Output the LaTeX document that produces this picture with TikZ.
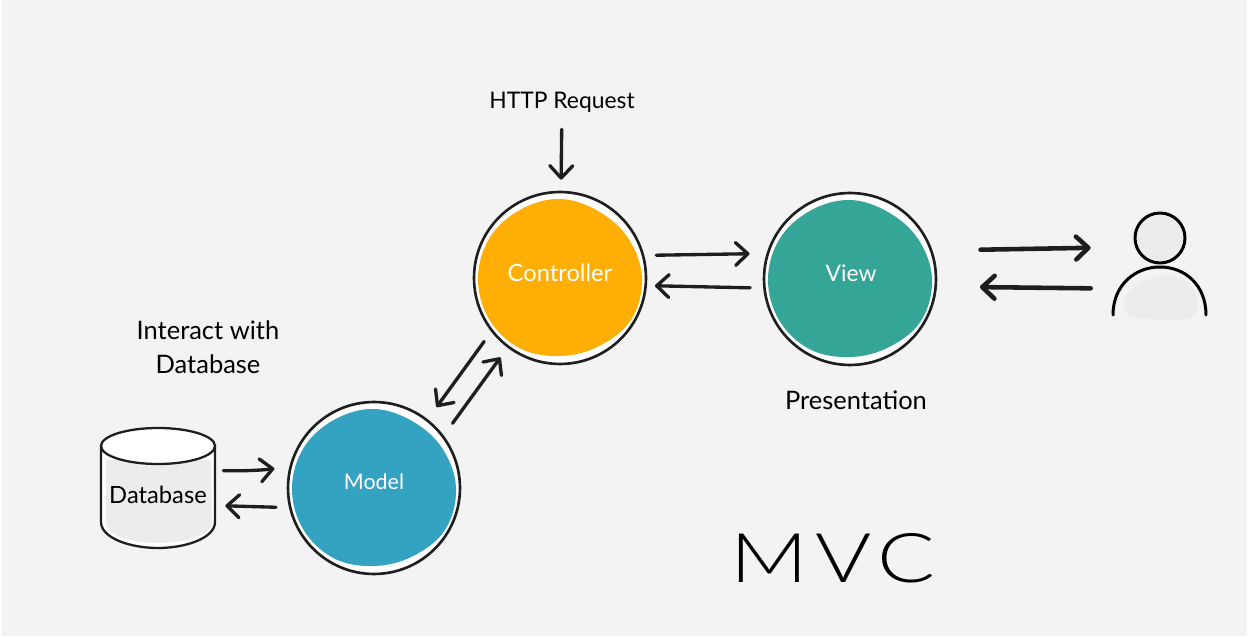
\documentclass[tikz,border=0pt]{standalone}
\usepackage{fontspec}
\setmainfont{Lato}
\newfontfamily\thinfont[LetterSpace=8]{Lato Light}
\usetikzlibrary{arrows.meta}
\definecolor{paper}{HTML}{F3F3F3}
\definecolor{ink}{HTML}{1E1E1E}
\definecolor{soft}{HTML}{ECECEC}
\definecolor{orangefill}{HTML}{FFAE05}
\definecolor{tealfill}{HTML}{35A597}
\definecolor{bluefill}{HTML}{34A2C1}
\newcommand{\blobshape}{plot[smooth cycle,tension=0.63] coordinates
  {(0:82) (30:82.5) (60:78.5) (90:78) (120:81) (150:82) (180:82) (210:81) (240:79) (270:79) (300:77) (330:79)}}
\tikzset{
  >={Straight Barb[length=7pt,width=13pt,round]},
  ball/.style={circle,draw=ink,line width=1.5pt,fill=white,minimum size=3.44cm},
  balltext/.style={text=white,font=\fontsize{#1}{16}\selectfont},
  arrow/.style={->,ink,line width=1.9pt,line cap=round},
  thick arrow/.style={arrow,line width=2.6pt},
  gap/.style 2 args={shorten <=#1*0.02cm,shorten >=#2*0.02cm},
  label/.style={text=black,font=\fontsize{#1}{19.5}\selectfont,align=center}
}
\begin{document}
\begin{tikzpicture}[x=0.02cm,y=-0.02cm]
\useasboundingbox (0,0) rectangle (1248,638);
\fill[white] (0,0) rectangle (1248,638);
\fill[paper] (2,0) rectangle (1247,636);

\path (560,278) node[ball] (controller) {};
\fill[orangefill,shift={(controller.center)}] \blobshape;
\path (560,273) node[balltext=13.5] (controllertext) {Controller};

\path (850,279) node[ball] (view) {};
\fill[tealfill,shift={(view.center)}] \blobshape;
\path (851,273) node[balltext=13] (viewtext) {View};

\path (374,488) node[ball] (model) {};
\fill[bluefill,shift={(model.center)}] \blobshape;
\path (374,482) node[balltext=12.2] (modeltext) {Model};

% database: body, grey inside, lid
\path (158,488) node[minimum width=2.28cm,minimum height=2.4cm,inner sep=0pt] (database) {};
\filldraw[draw=ink,fill=white,line width=1.3pt] (101,446) -- (101,522) .. controls (101,538) and (130,548) .. (158,548) .. controls (186,548) and (215,538) .. (215,522) -- (215,446) -- cycle;
\fill[soft] (106,460) -- (211,460) -- (212,522) .. controls (212,536) and (183,543) .. (158,543) .. controls (133,543) and (106,536) .. (106,522) -- cycle;
\filldraw[draw=ink,fill=white,line width=1.3pt] (158,446) ellipse (57 and 18);
\path (158,495) node[label=13.5] (databasetext) {Database};

% user: head and shoulders
\path (1160,265) node[minimum width=1.92cm,minimum height=2cm,inner sep=0pt] (user) {};
\fill[soft] (1124,302) .. controls (1128,285) and (1150,274) .. (1172,276) .. controls (1190,278) and (1200,295) .. (1198,308) .. controls (1196,322) and (1175,320) .. (1150,319) .. controls (1130,318) and (1122,315) .. (1124,302) -- cycle;
\path (1160,238) node[circle,draw=black,line width=1.7pt,fill=soft,minimum size=1cm,inner sep=0pt] (head) {};
\draw[black,line width=1.7pt,line cap=round] (1113,315) .. controls (1113,285) and (1135,267) .. (1160,267) .. controls (1185,267) and (1206,285) .. (1206,315);

\path (562,102) node[label=13] (http) {HTTP Request};
\path (208,347) node[label=14.5] (interact) {Interact with\\Database};
\path (856,400) node[label=14.5] (presentation) {Presentation};
\path (833,558) node[text=black,font=\fontsize{39}{50}\thinfont,xscale=1.25] (mvc) {MVC};

\draw[arrow,gap={11}{11}] (http) -- (controller);
\draw[arrow,gap={12}{17}] (controller.15) -- (view.163);
\draw[arrow,gap={13}{8}] (view.186) -- (controller.-5);
\draw[arrow,gap={12}{15}] (controller.218) -- (model.52);
\draw[arrow,gap={15}{12}] (model.37) -- (controller.233);
\draw[arrow,gap={8}{15}] (database.17) to[bend right=4] (model.166);
\draw[arrow,gap={13}{10}] (model.193) -- (database.-17);
\draw[thick arrow,gap={48}{21}] (view.19) -- (user.160);
\draw[thick arrow,gap={21}{43}] (user.206) -- (view.-5);
\end{tikzpicture}
\end{document}
